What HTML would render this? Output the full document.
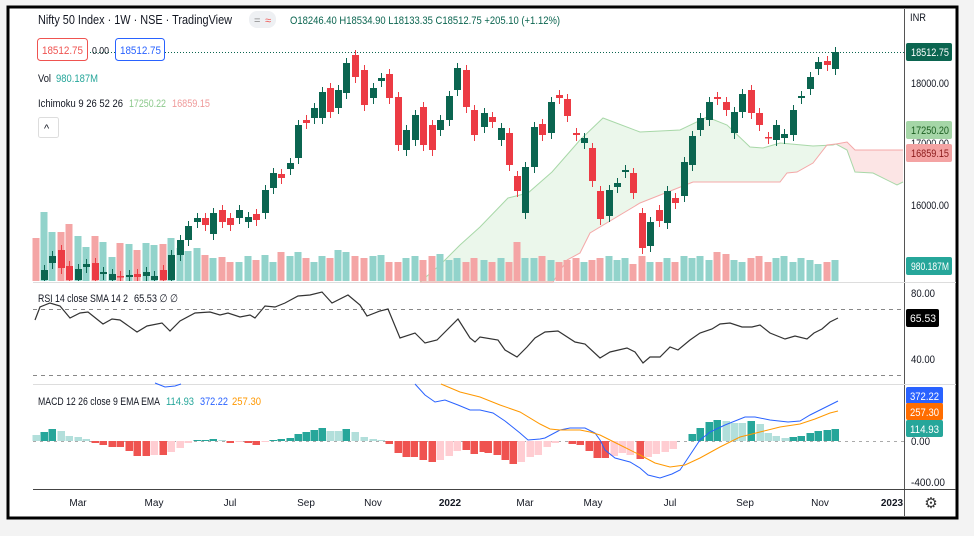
<!DOCTYPE html>
<html><head><meta charset="utf-8"><style>
html,body{margin:0;padding:0;background:#f3f3f3;}
svg{display:block;font-family:"Liberation Sans",sans-serif;}
</style></head><body>
<svg id="s" width="974" height="536" xmlns="http://www.w3.org/2000/svg">
<rect x="0" y="0" width="974" height="536" fill="#f3f3f3"/>
<rect x="8" y="7" width="949" height="511" fill="#fff" stroke="#000" stroke-width="3"/>
<g id="g"></g>
</svg>
<script>
const NS="http://www.w3.org/2000/svg",G=document.getElementById('g');
function el(t,a,txt){const e=document.createElementNS(NS,t);for(const k in a)e.setAttribute(k,a[k]);if(txt!==undefined)e.textContent=txt;G.appendChild(e);return e;}
const GC="#0b6550",RC="#ec3b44",VG="#92d3cb",VR="#f4a5a5";
el('line',{x1:904.5,y1:9,x2:904.5,y2:516,stroke:"#555",'stroke-width':1});
el('line',{x1:33,y1:489.5,x2:956,y2:489.5,stroke:"#444",'stroke-width':1});
el('line',{x1:33,y1:282.5,x2:956,y2:282.5,stroke:"#ddd"});
el('line',{x1:33,y1:384.5,x2:956,y2:384.5,stroke:"#ddd"});
el('line',{x1:90,y1:52.5,x2:904,y2:52.5,stroke:"#0b6550",'stroke-dasharray':"1 2",'stroke-width':1});
const A=[[420,282],[440,265],[460,245],[480,227],[508,198],[528,193],[552,172],[580,140],[603,118],[640,132],[680,130],[707,117],[727,125],[750,147],[763,148],[780,143],[813,146],[833,145],[836,144]];
const A2=[[836,144],[847,150],[855,172],[873,173],[897,185],[903,182]];
const B=[[420,282],[553,282],[567,260],[580,253],[590,233],[640,203],[693,182],[780,182],[787,173],[797,172],[813,163],[827,145],[836,144]];
const B2=[[836,144],[847,142],[855,150],[903,150]];
const p=a=>a.map(q=>q.join(',')).join(' ');
el('polygon',{points:p(A.concat(B.slice().reverse())),fill:"rgba(120,200,120,0.15)"});
el('polygon',{points:p(B2.concat(A2.slice().reverse())),fill:"rgba(240,110,110,0.18)"});
el('polyline',{points:p(A.concat(A2)),fill:"none",stroke:"#a8d8a8",'stroke-width':1});
el('polyline',{points:p(B.concat(B2)),fill:"none",stroke:"#f4a8a8",'stroke-width':1});
const C=[[44,270,280,1],[52,256,263,1],[61,250,268,0],[69,266,280,0],[78,269,280,1],[86,264,267,1],[95,263,280,0],[103,272,274,1],[112,274,280,1],[120,276,277,0],[129,275,277,1],[137,274,277,0],[146,272,276,1],[154,276,280,1],[163,270,280,0],[171,255,280,1],[180,240,255,1],[188,226,240,1],[197,218,222,1],[205,218,225,0],[213,213,234,1],[222,210,222,0],[230,218,225,0],[239,210,218,1],[248,217,222,1],[256,214,220,0],[265,190,213,1],[273,173,188,1],[281,174,178,0],[290,163,169,1],[298,125,158,1],[306,120,123,0],[314,108,118,1],[322,92,118,1],[330,88,112,0],[338,90,108,1],[346,63,93,1],[355,55,77,0],[364,70,105,0],[373,88,98,1],[381,78,81,1],[389,74,98,0],[398,97,145,0],[406,130,150,1],[415,115,140,1],[423,107,145,0],[432,125,150,0],[440,120,130,1],[449,96,120,1],[457,68,90,1],[466,70,107,0],[474,110,135,0],[484,113,127,1],[492,117,122,0],[501,128,140,1],[509,133,165,0],[517,176,191,0],[525,167,213,1],[534,127,167,1],[542,124,135,0],[551,102,133,1],[559,95,98,0],[567,99,116,0],[576,133,135,0],[584,138,143,1],[592,148,181,0],[600,191,219,0],[609,190,216,1],[617,183,187,1],[625,170,172,1],[633,173,193,0],[642,213,248,0],[650,222,246,1],[659,210,221,0],[667,191,223,1],[675,198,203,0],[684,162,196,1],[692,136,165,1],[700,118,130,1],[709,102,120,1],[717,97,99,0],[726,102,110,0],[734,112,133,1],[742,94,112,1],[751,90,113,0],[759,113,125,0],[768,137,138,0],[776,125,140,1],[784,134,138,1],[793,110,135,1],[801,96,98,1],[810,77,89,1],[818,62,69,1],[827,61,65,0],[835,52,69,1]];
const vt=[238,212,232,232,224,236,247,236,242,257,243,244,250,243,245,244,238,248,251,248,255,258,257,262,262,256,260,255,262,252,256,252,258,262,256,258,250,252,256,258,256,255,262,262,258,256,260,256,254,260,258,262,258,260,262,258,262,242,258,258,256,260,262,260,258,262,260,258,256,260,258,264,256,262,262,258,262,256,258,256,260,252,254,260,262,258,256,262,258,256,262,258,260,264,262];
const vx=[36].concat(C.map(c=>c[0]));
const vc=[0].concat(C.map(c=>c[3]));
vx.forEach((x,i)=>{const t=vt[i]||260;el('rect',{x:x-3.5,y:t,width:7,height:281-t,fill:vc[i]?VG:VR});});
C.forEach(c=>{const col=c[3]?GC:RC;el('line',{x1:c[0]+.5,x2:c[0]+.5,y1:c[1]-5,y2:Math.min(c[2]+6,281),stroke:col,'stroke-width':1});el('rect',{x:c[0]-3,y:c[1],width:7,height:Math.max(c[2]-c[1],1.5),fill:col});});
el('line',{x1:33,y1:309.5,x2:904,y2:309.5,stroke:"#888",'stroke-dasharray':"4 4"});
el('line',{x1:33,y1:375.5,x2:904,y2:375.5,stroke:"#888",'stroke-dasharray':"4 4"});
const R=[[35,320],[40,307],[50,303],[60,306],[70,318],[80,313],[88,312],[103,324],[112,319],[120,320],[137,332],[147,326],[162,323],[170,331],[180,321],[195,313],[210,312],[220,315],[228,313],[240,317],[250,315],[255,318],[265,306],[275,307],[285,303],[298,296],[310,295],[322,292],[332,303],[348,295],[360,305],[367,316],[380,311],[388,309],[400,338],[415,333],[425,343],[437,340],[458,319],[470,338],[475,342],[480,337],[498,340],[505,350],[517,357],[527,347],[535,338],[545,332],[558,331],[575,342],[585,344],[600,358],[610,352],[627,348],[635,352],[643,363],[650,357],[660,357],[670,347],[678,350],[690,340],[700,333],[712,329],[720,324],[730,323],[742,327],[752,327],[760,325],[770,333],[785,339],[795,336],[807,339],[814,333],[822,329],[830,322],[838,318]];
el('polyline',{points:p(R),fill:"none",stroke:"#333",'stroke-width':1.2});
el('line',{x1:33,y1:441.5,x2:904,y2:441.5,stroke:"#aaa",'stroke-dasharray':"3 4"});
const H=[[36,435,'l'],[44,432,'t'],[52,429,'t'],[61,431,'l'],[69,436,'l'],[78,437,'l'],[86,439,'l'],[95,443,'r'],[103,445,'r'],[112,447,'r'],[120,447,'r'],[129,451,'r'],[137,456,'r'],[146,456,'r'],[154,455,'p'],[163,455,'r'],[171,452,'p'],[180,448,'p'],[188,443,'p'],[197,440,'t'],[205,440,'t'],[213,439,'t'],[222,440,'l'],[230,443,'r'],[239,442,'p'],[248,443,'r'],[256,445,'r'],[265,442,'p'],[273,440,'t'],[281,439,'t'],[290,438,'t'],[298,434,'t'],[306,432,'t'],[314,430,'t'],[322,428,'t'],[330,431,'l'],[338,431,'l'],[346,429,'t'],[355,432,'l'],[364,437,'l'],[373,439,'l'],[381,440,'l'],[389,444,'r'],[398,453,'r'],[406,457,'r'],[414,457,'r'],[423,460,'r'],[432,462,'r'],[440,460,'p'],[449,456,'p'],[457,451,'p'],[466,450,'r'],[474,454,'r'],[483,452,'r'],[488,453,'r'],[497,455,'r'],[505,460,'r'],[513,464,'r'],[521,462,'p'],[530,457,'p'],[538,455,'p'],[547,447,'p'],[555,443,'p'],[572,444,'r'],[580,445,'r'],[589,451,'r'],[597,458,'r'],[605,458,'r'],[614,456,'p'],[622,453,'p'],[630,455,'p'],[640,459,'r'],[648,457,'p'],[656,454,'p'],[665,452,'p'],[673,449,'p'],[692,434,'t'],[700,428,'t'],[709,422,'t'],[717,420,'t'],[726,421,'l'],[734,423,'l'],[742,423,'l'],[751,421,'t'],[760,424,'l'],[768,433,'l'],[776,436,'l'],[785,438,'l'],[793,437,'t'],[801,436,'t'],[810,433,'t'],[818,431,'t'],[827,430,'t'],[835,429,'t']];
const HC={t:"#26a69a",l:"#b2dfdb",r:"#ef5350",p:"#ffcdd2"};
H.forEach(h=>{const y0=441,y=h[1];el('rect',{x:h[0]-3.5,y:Math.min(y,y0),width:7.5,height:Math.max(Math.abs(y-y0),1),fill:HC[h[2]]});});
el('polyline',{points:p([[155,383],[165,387],[175,386],[181,384]]),fill:"none",stroke:"#2962ff",'stroke-width':1});
el('polyline',{points:p([[415,384],[425,395],[435,402],[445,400],[458,405],[470,410],[480,410],[493,413],[505,421],[520,433],[528,440],[540,439],[545,438],[560,430],[570,428],[585,428],[595,433],[600,440],[605,450],[615,458],[630,462],[640,468],[648,475],[660,478],[672,474],[680,470],[690,455],[700,440],[710,432],[725,425],[745,417],[755,417],[770,420],[788,422],[800,421],[810,415],[820,410],[838,401]]),fill:"none",stroke:"#2962ff",'stroke-width':1});
el('polyline',{points:p([[441,384],[460,392],[480,397],[500,405],[520,412],[540,424],[550,429],[560,430],[580,430],[590,432],[600,435],[620,445],[640,455],[655,463],[670,467],[685,465],[700,458],[720,447],[740,437],[760,432],[780,427],[800,424],[815,419],[830,413],[838,411]]),fill:"none",stroke:"#ff9800",'stroke-width':1});
const T=(x,y,s,len,o)=>{const a=Object.assign({x:x,y:y,'font-size':11,fill:"#131722"},o||{});if(len){a.textLength=len;a.lengthAdjust="spacingAndGlyphs";}return el('text',a,s);};
T(38,24,"Nifty 50 Index · 1W · NSE · TradingView",194,{'font-size':13});
el('rect',{x:249,y:11,width:27,height:17,rx:8,fill:"#eef0f3"});
T(254,24,"=",0,{fill:"#888"});T(265,24,"≈",0,{fill:"#ef5350"});
T(290,24,"O18246.40 H18534.90 L18133.35 C18512.75 +205.10 (+1.12%)",270,{fill:"#0b6550"});
el('rect',{x:37.5,y:38.5,width:50,height:22,rx:3,fill:"#fff",stroke:"#ef5350"});T(42,54,"18512.75",41,{fill:"#ef5350"});
T(92,54,"0.00",17,{'font-size':10});
el('rect',{x:115.5,y:38.5,width:49,height:22,rx:3,fill:"#fff",stroke:"#2962ff"});T(120,54,"18512.75",41,{fill:"#2962ff"});
T(38,82,"Vol",13);T(56,82,"980.187M",42,{fill:"#26a69a"});
T(38,107,"Ichimoku 9 26 52 26",85);T(129,107,"17250.22",37,{fill:"#8cc98c"});T(172,107,"16859.15",38,{fill:"#ef9a9a"});
el('rect',{x:38.5,y:117.5,width:20,height:20,rx:2,fill:"#fff",stroke:"#ddd"});T(44,132,"^");
T(38,302,"RSI 14 close SMA 14 2",90);T(134,302,"65.53  ∅  ∅",44);
T(38,405,"MACD 12 26 close 9 EMA EMA",122);T(166,405,"114.93",28,{fill:"#26a69a"});T(200,405,"372.22",28,{fill:"#2962ff"});T(232,405,"257.30",29,{fill:"#ff9800"});
[["Mar",78],["May",154],["Jul",230],["Sep",306],["Nov",373],["2022",450],["Mar",525],["May",593],["Jul",670],["Sep",745],["Nov",820],["2023",892]].forEach(a=>T(a[1],506,a[0],0,{'text-anchor':'middle','font-weight':a[0].length==4?'bold':'normal','font-size':10}));
T(931,508,"⚙",0,{'text-anchor':'middle','font-size':15,fill:"#333"});
const L=(y,s,bg,fg)=>{if(bg)el('rect',{x:906,y:y-9,width:46,height:18,rx:2,fill:bg});T(911,y+4,s,Math.round(s.length*4.8),{fill:fg||"#131722"});};
T(910,21,"INR",16);
L(83,"18000.00");L(143,"17000.00");L(205,"16000.00");
L(52,"18512.75","#0b6550","#fff");L(130,"17250.20","#a5d6a7","#1b5e20");L(153,"16859.15","#f4a3a3","#8b1a1a");L(266,"980.187M","#26a69a","#fff");
L(293,"80.00");L(359,"40.00");
el('rect',{x:906,y:309,width:33,height:18,rx:2,fill:"#000"});T(910,322,"65.53",26,{fill:"#fff"});
L(482,"-400.00");L(441,"0.00");
[[396,"372.22","#2962ff"],[412,"257.30","#ff6d00"],[429,"114.93","#26a69a"]].forEach(a=>{el('rect',{x:906,y:a[0]-9,width:37,height:17,rx:2,fill:a[2]});T(910,a[0]+4,a[1],29,{fill:"#fff"});});
</script>
</body></html>
